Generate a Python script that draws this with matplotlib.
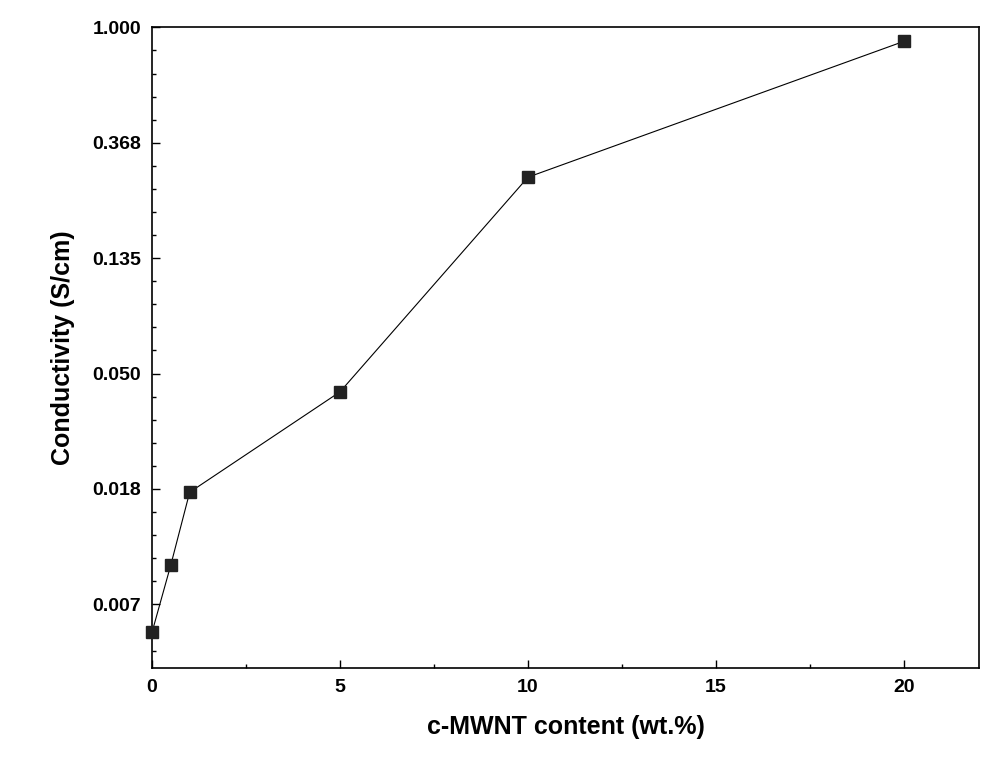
import numpy as np
import matplotlib
matplotlib.use('Agg')
from matplotlib import pyplot as plt
from matplotlib.ticker import FixedLocator, NullFormatter

# c-MWNT content (wt.%) vs conductivity (S/cm)
content = [0, 0.5, 1, 5, 10, 20]
conductivity = [0.0053, 0.0095, 0.0178, 0.0425, 0.273, 0.886]
ytick_vals = [np.exp(-k) for k in range(6)]
ytick_labels = ['1.000', '0.368', '0.135', '0.050', '0.018', '0.007']

plt.rcParams['font.family'] = ['Liberation Sans', 'DejaVu Sans']
plt.rcParams['font.weight'] = 'bold'
fig = plt.figure(figsize=(9.94, 7.82), dpi=100)
ax = fig.add_axes([0.153, 0.146, 0.832, 0.819])

ax.plot(content, conductivity, color='black', lw=0.8, marker='s', ms=8,
        mfc='#222222', mec='#222222', clip_on=False, zorder=3)

ax.set_yscale('log', base=np.e)
ax.set_ylim(np.exp(-5.55), 1.0)
ax.set_xlim(0, 22)
ax.yaxis.set_major_locator(FixedLocator(ytick_vals))
ax.set_yticklabels(ytick_labels)
ax.yaxis.set_minor_locator(FixedLocator([np.exp(-k * 0.2) for k in range(28)]))
ax.yaxis.set_minor_formatter(NullFormatter())
ax.set_xticks([0, 5, 10, 15, 20])
ax.set_xticks(np.arange(0, 22.1, 2.5), minor=True)

ax.tick_params(which='major', direction='in', length=6, width=1, labelsize=14, pad=8)
ax.tick_params(which='minor', direction='in', length=3, width=1)
ax.tick_params(axis='x', top=False)
for s in ax.spines.values():
    s.set_linewidth(1.2)

ax.set_xlabel('c-MWNT content (wt.%)', fontsize=18, fontweight='bold', labelpad=14)
ax.set_ylabel('Conductivity (S/cm)', fontsize=18, fontweight='bold', labelpad=12)

fig.savefig('out.png', dpi=100)
